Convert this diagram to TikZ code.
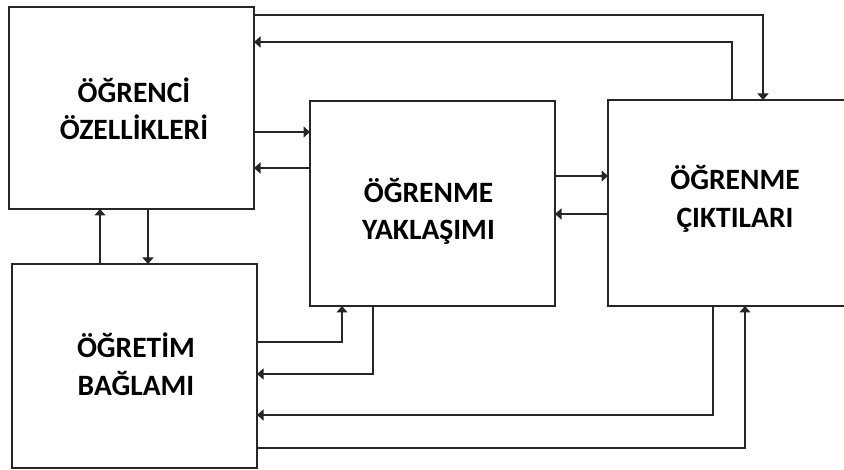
\documentclass[tikz,border=0pt]{standalone}
\usepackage{fontspec}
\setmainfont{Carlito}
\usetikzlibrary{arrows.meta,calc}
\begin{document}
\begin{tikzpicture}[x=1pt,y=-1pt,
  line width=1.1pt,
  box/.style={draw=black!85, minimum width=245pt, inner sep=0pt, outer sep=0pt},
  lbl/.style={align=center, font=\bfseries\fontsize{29.5}{37.5}\selectfont, inner sep=0pt},
  arr/.style={-{Triangle[length=6.5pt,width=11pt]}, draw=black!85}]
\useasboundingbox (0,0) rectangle (844,470);
\clip (0,0) rectangle (844,470);
% boxes
\node[box, minimum height=202pt] (box1) at (131.5,108) {};
\node[box, minimum height=204pt] (box2) at (134.5,366) {};
\node[box, minimum height=205pt] (mid) at (432.5,203.5) {};
\node[minimum width=224pt, minimum height=206pt, inner sep=0pt, outer sep=0pt] (out) at (720,203) {};
\draw[draw=black!85] ($(out.north east)+(40,0)$) -- (out.north west) -- (out.south west) -- ($(out.south east)+(40,0)$);
% texts
\node[lbl] (t1) at (134,109) {ÖĞRENCİ\\ÖZELLİKLERİ};
\node[lbl] (t2) at (136,364.5) {ÖĞRETİM\\BAĞLAMI};
\node[lbl] (t3) at (428.5,211.5) {ÖĞRENME\\YAKLAŞIMI};
\node[lbl] (t4) at (735,199) {ÖĞRENME\\ÇIKTILARI};
% connectors
\draw[arr] (box1.east |- 0,132) -- (mid.west |- 0,132);
\draw[arr] (mid.west |- 0,168) -- (box1.east |- 0,168);
\draw[arr] (mid.east |- 0,176) -- (out.west |- 0,176);
\draw[arr] (out.west |- 0,214) -- (mid.east |- 0,214);
\draw[arr] (box1.east |- 0,15) -| (out.north -| 763,0);
\draw[arr] (out.north -| 732,0) |- (box1.east |- 0,42);
\draw[arr] (box2.north -| 100,0) -- (box1.south -| 100,0);
\draw[arr] (box1.south -| 148,0) -- (box2.north -| 148,0);
\draw[arr] (box2.east |- 0,342) -| (mid.south -| 342,0);
\draw[arr] (mid.south -| 373,0) |- (box2.east |- 0,374);
\draw[arr] (out.south -| 713,0) |- (box2.east |- 0,415);
\draw[arr] (box2.east |- 0,448) -| (out.south -| 745,0);
\end{tikzpicture}
\end{document}
